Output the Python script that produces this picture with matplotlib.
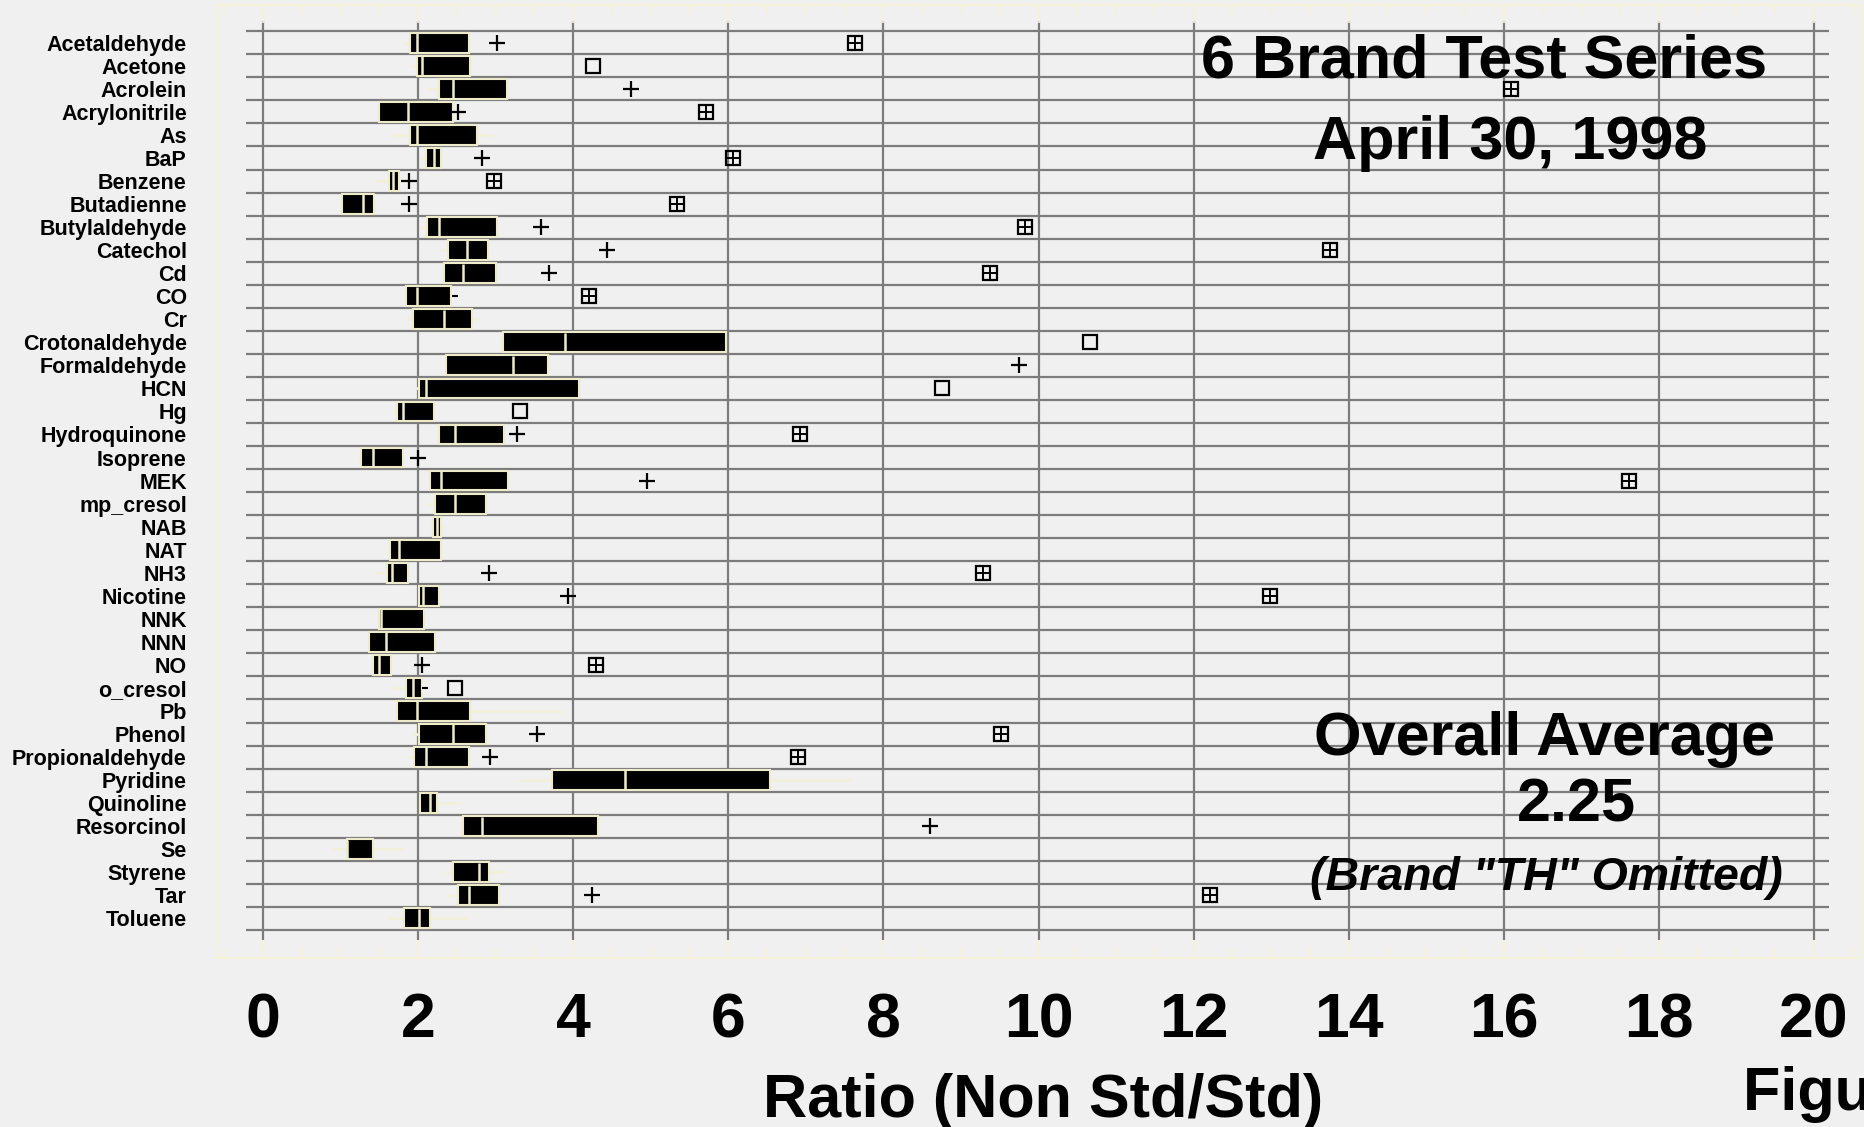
import numpy as np
import matplotlib
matplotlib.use("Agg")
import matplotlib.pyplot as plt

plt.rcParams['font.family'] = ['Liberation Sans', 'DejaVu Sans']
plt.rcParams['font.weight'] = 'bold'

# ---------------------------------------------------------------
# datos (ratio Non Std / Std por compuesto)

compuestos = ["Acetaldehyde", "Acetone", "Acrolein", "Acrylonitrile", "As", "BaP",
              "Benzene", "Butadienne", "Butylaldehyde", "Catechol", "Cd", "CO", "Cr",
              "Crotonaldehyde", "Formaldehyde", "HCN", "Hg", "Hydroquinone", "Isoprene",
              "MEK", "mp_cresol", "NAB", "NAT", "NH3", "Nicotine", "NNK", "NNN", "NO",
              "o_cresol", "Pb", "Phenol", "Propionaldehyde", "Pyridine", "Quinoline",
              "Resorcinol", "Se", "Styrene", "Tar", "Toluene"]

bigote_inf = [1.81, 1.90, 2.10, 1.50, 1.68, 2.02, 1.43, 1.02, 2.02, 2.31, 2.33, 1.81, 1.86,
              3.06, 2.36, 1.96, 1.68, 2.27, 1.23, 2.15, 2.11, 2.155, 1.64, 1.43, 2.01, 1.50,
              1.37, 1.42, 1.68, 1.71, 1.94, 1.875, 3.31, 2.02, 2.58, 0.88, 2.36, 2.38, 1.59]
q1 = [1.90, 1.99, 2.27, 1.50, 1.90, 2.10, 1.62, 1.02, 2.12, 2.38, 2.33, 1.85, 1.94,
      3.10, 2.36, 2.01, 1.73, 2.27, 1.27, 2.15, 2.22, 2.19, 1.64, 1.595, 2.01, 1.50,
      1.37, 1.42, 1.85, 1.73, 2.01, 1.95, 3.73, 2.02, 2.58, 1.085, 2.45, 2.52, 1.82]
mediana = [1.99, 2.05, 2.45, 1.875, 1.99, 2.20, 1.67, 1.29, 2.27, 2.63, 2.58, 1.99, 2.33,
           3.90, 3.22, 2.10, 1.81, 2.47, 1.42, 2.30, 2.47, 2.24, 1.75, 1.66, 2.06, 1.52,
           1.59, 1.49, 1.94, 1.99, 2.45, 2.10, 4.67, 2.155, 2.82, 1.085, 2.79, 2.65, 2.01]
q3 = [2.65, 2.675, 3.15, 2.45, 2.76, 2.30, 1.75, 1.43, 3.02, 2.90, 3.01, 2.42, 2.70,
      5.97, 3.67, 4.07, 2.20, 3.11, 1.80, 3.16, 2.88, 2.30, 2.30, 1.875, 2.27, 2.07,
      2.22, 1.65, 2.05, 2.675, 2.88, 2.65, 6.54, 2.24, 4.32, 1.42, 2.92, 3.04, 2.155]
bigote_sup = [2.65, 2.675, 3.15, 2.45, 2.98, 2.30, 1.75, 1.43, 3.02, 2.90, 3.01, 2.42, 2.78,
              5.97, 3.67, 4.07, 2.20, 3.11, 1.80, 3.16, 2.88, 2.35, 2.30, 1.875, 2.27, 2.07,
              2.22, 1.65, 2.05, 3.85, 2.88, 2.65, 7.59, 2.57, 4.32, 1.81, 3.13, 3.04, 2.65]

nan = np.nan
# outliers: "+" , cuadro con cruz y cuadro vacio
cruz = [3.02, nan, 4.75, 2.52, nan, 2.82, 1.885, 1.885, 3.59, 4.44, 3.69, nan, nan,
        nan, 9.75, nan, nan, 3.27, 2.00, 4.95, nan, nan, nan, 2.91, 3.93, nan,
        nan, 2.05, nan, nan, 3.53, 2.93, nan, nan, 8.60, nan, nan, 4.24, nan]
cuadro_cruz = [7.64, nan, 16.09, 5.71, nan, 6.06, 2.98, 5.34, 9.83, 13.76, 9.37, 4.20, nan,
               nan, nan, nan, nan, 6.93, nan, 17.62, nan, nan, nan, 9.29, 12.99, nan,
               nan, 4.30, nan, nan, 9.52, 6.90, nan, nan, nan, nan, nan, 12.21, nan]
cuadro = [nan, 4.25, nan, nan, nan, nan, nan, nan, nan, nan, nan, nan, nan,
          10.66, nan, 8.76, 3.32, nan, nan, nan, nan, nan, nan, nan, nan, nan,
          nan, nan, 2.47, nan, nan, nan, nan, nan, nan, nan, nan, nan, nan]
guion = [nan, nan, nan, nan, nan, nan, nan, nan, nan, nan, nan, 2.47, nan,
         nan, nan, nan, nan, nan, nan, nan, nan, nan, nan, nan, nan, nan,
         nan, nan, 2.09, nan, nan, nan, nan, nan, nan, nan, nan, nan, nan]

ticks_x = [0, 2, 4, 6, 8, 10, 12, 14, 16, 18, 20]

# ---------------------------------------------------------------

fondo = '#f0f0f0'
crema = '#eeebcb'
bigote = '#f2f0da'
marco = '#f4f2d8'
gris = '#7c7c7c'

W, H = 1865, 1127
fig = plt.figure(figsize=(W / 100, H / 100), dpi=100, facecolor=fondo)
ax = fig.add_axes([216.7 / W, 1 - 958 / H, (1861 - 216.7) / W, (958 - 5) / H])
ax.set_facecolor(fondo)

n = len(compuestos)
y = np.arange(n)

ax.set_xlim(-0.597, 20.606)
ax.set_ylim(39.72, -1.64)

# rejilla
ax.hlines(np.arange(n + 1) - 0.5, -0.22, 20.19, color=gris, lw=1.6, zorder=1)
ax.vlines(ticks_x, -0.93, 38.93, color=gris, lw=1.6, zorder=1)

# cajas
q1a, q3a = np.array(q1), np.array(q3)
ax.hlines(y, bigote_inf, q1a, color=bigote, lw=2, zorder=2)
ax.hlines(y, q3a, bigote_sup, color=bigote, lw=2, zorder=2)
ax.barh(y, q3a - q1a, left=q1a, height=0.86, color='black', edgecolor=crema,
        linewidth=1.5, zorder=3)
ax.vlines(mediana, y - 0.42, y + 0.42, color=crema, lw=1.8, zorder=4)

# outliers
ax.plot(cruz, y, ls='none', marker='+', ms=12, mew=1.6, color='black', zorder=5)
ax.plot(cuadro_cruz, y, ls='none', marker='s', ms=9.5, mew=1.6, mfc='none',
        mec='black', zorder=5)
ax.plot(cuadro_cruz, y, ls='none', marker='+', ms=11, mew=1.4, color='black', zorder=5)
ax.plot(cuadro, y, ls='none', marker='s', ms=9.5, mew=1.6, mfc='none',
        mec='black', zorder=5)
ax.plot(guion, y, ls='none', marker='_', ms=4, mew=1.5, color='black', zorder=5)

# ejes
for lado in ['top', 'bottom', 'left', 'right']:
    ax.spines[lado].set_color(marco)
    ax.spines[lado].set_linewidth(1.5)

ax.set_xticks(ticks_x)
ax.set_xticklabels([str(t) for t in ticks_x], fontsize=45, fontweight='bold')
ax.set_xticks(np.arange(-0.5, 20.6, 0.5), minor=True)
ax.tick_params(axis='x', which='major', direction='in', top=True, bottom=True,
               length=13, width=1.2, color=marco, pad=24)
ax.tick_params(axis='x', which='minor', direction='in', top=True, bottom=True,
               length=7, width=1.2, color=marco)

ax.set_yticks(y)
ax.set_yticklabels(compuestos, fontsize=15.5, fontweight='bold')
ax.tick_params(axis='y', length=0, pad=21.5)

# textos
fig.text(1043 / W, 1 - 1117 / H, "Ratio (Non Std/Std)", fontsize=44, fontweight='bold',
         ha='center', va='baseline')
# en el original este texto sale cortado por el borde derecho
fig.text(1743 / W, 1 - 1110 / H, "Figure 1", fontsize=44, fontweight='bold',
         ha='left', va='baseline')
fig.text(1484 / W, 1 - 77 / H, "6 Brand Test Series", fontsize=44, fontweight='bold',
         ha='center', va='baseline', zorder=10)
fig.text(1510 / W, 1 - 159 / H, "April 30, 1998", fontsize=44, fontweight='bold',
         ha='center', va='baseline', zorder=10)
fig.text(1545 / W, 1 - 755 / H, "Overall Average", fontsize=44, fontweight='bold',
         ha='center', va='baseline', zorder=10)
fig.text(1576 / W, 1 - 822 / H, "2.25", fontsize=44, fontweight='bold',
         ha='center', va='baseline', zorder=10)
fig.text(1546 / W, 1 - 890 / H, '(Brand "TH" Omitted)', fontsize=33.5, fontweight='bold',
         style='italic', ha='center', va='baseline', zorder=10)

fig.savefig("out.png", dpi=100, facecolor=fondo)
